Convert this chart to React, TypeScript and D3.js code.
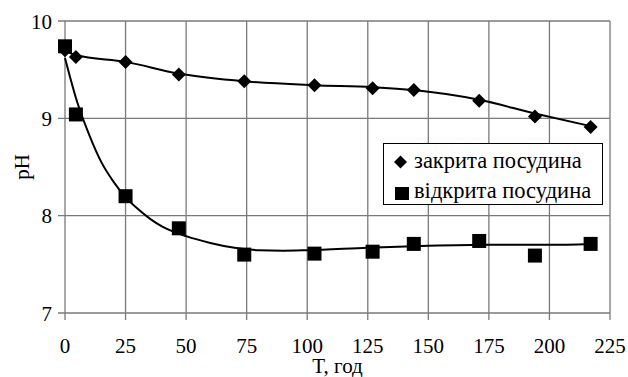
import React from "react";
import * as d3 from "d3";

// закрита посудина (diamonds)
const closedT = [0, 4.5, 25, 47, 74, 103, 127, 144, 171, 194, 217];
const closedPH = [9.7, 9.63, 9.58, 9.45, 9.38, 9.34, 9.31, 9.29, 9.18, 9.02, 8.91];
// відкрита посудина (squares)
const openT = [0, 4.5, 25, 47, 74, 103, 127, 144, 171, 194, 217];
const openPH = [9.74, 9.04, 8.2, 7.87, 7.6, 7.61, 7.63, 7.71, 7.74, 7.59, 7.71];

// trend lines
const closedTrendT = [0, 4.5, 25, 47, 74, 103, 127, 144, 171, 194, 217];
const closedTrendPH = [9.69, 9.65, 9.58, 9.46, 9.38, 9.34, 9.32, 9.29, 9.19, 9.05, 8.92];
const openTrendT = [0, 5, 10, 15, 20, 25, 30, 35, 40, 50, 60, 70, 80, 90, 100, 125, 150, 175, 200, 217];
const openTrendPH = [9.62, 9.17, 8.83, 8.55, 8.35, 8.19, 8.07, 7.97, 7.89, 7.79, 7.72, 7.67, 7.645, 7.64, 7.645, 7.67, 7.69, 7.7, 7.7, 7.71];

const xTicks = [0, 25, 50, 75, 100, 125, 150, 175, 200, 225];
const yTicks = [7, 8, 9, 10];
const legendLabels = ["закрита посудина", "відкрита посудина"];

const left = 65, right = 610, top = 21, bottom = 313;
const x = d3.scaleLinear().domain([0, 225]).range([left, right]);
const y = d3.scaleLinear().domain([7, 10]).range([bottom, top]);
const grid = "#7a7a7a";
const serif = (size: number) => ({ fontFamily: "Liberation Serif", fontSize: size + "px" });

const line = d3.line<[number, number]>()
  .x((d) => x(d[0])).y((d) => y(d[1]))
  .curve(d3.curveMonotoneX);

const diamond = (cx: number, cy: number, r: number) =>
  `M${cx},${cy - r}L${cx + r},${cy}L${cx},${cy + r}L${cx - r},${cy}Z`;

export default function App() {
  const s = 14;
  return (
    <svg width={628} height={377} style={{ position: "absolute", left: 0, top: 0, background: "white" }}>
      {/* grid */}
      {xTicks.map((t) => (
        <line key={"gx" + t} x1={x(t)} x2={x(t)} y1={top} y2={bottom + 7} stroke={grid} strokeWidth={1.3} />
      ))}
      {yTicks.map((t) => (
        <line key={"gy" + t} x1={left - 7} x2={right} y1={y(t)} y2={y(t)} stroke={grid} strokeWidth={1.3} />
      ))}

      {/* tick labels */}
      {xTicks.map((t) => (
        <text key={"tx" + t} x={x(t)} y={353} textAnchor="middle" style={serif(21)}>{t}</text>
      ))}
      {yTicks.map((t) => (
        <text key={"ty" + t} x={52} y={y(t) + 7.5} textAnchor="end" style={serif(21)}>{t}</text>
      ))}
      <text x={(left + right) / 2} y={373} textAnchor="middle" style={serif(21)}>T, год</text>
      <text transform={`translate(29,${(top + bottom) / 2}) rotate(-90)`} textAnchor="middle" style={serif(21)}>pH</text>

      {/* trend lines */}
      <path d={line(closedTrendT.map((t, i) => [t, closedTrendPH[i]] as [number, number])) || ""}
        fill="none" stroke="black" strokeWidth={2} />
      <path d={line(openTrendT.map((t, i) => [t, openTrendPH[i]] as [number, number])) || ""}
        fill="none" stroke="black" strokeWidth={2} />

      {/* markers */}
      {closedT.map((t, i) => (
        <path key={"d" + i} d={diamond(x(t), y(closedPH[i]), 7)} fill="black" />
      ))}
      {openT.map((t, i) => (
        <rect key={"s" + i} x={x(t) - s / 2} y={y(openPH[i]) - s / 2} width={s} height={s} fill="black" />
      ))}

      {/* legend */}
      <rect x={383.5} y={143.5} width={219} height={61} fill="white" stroke="black" strokeWidth={1} />
      <path d={diamond(400.5, 162, 6.5)} fill="black" />
      <rect x={395} y={187} width={14} height={13} fill="black" />
      {legendLabels.map((l, i) => (
        <text key={l} x={414} y={168 + i * 30} style={serif(22.5)}>{l}</text>
      ))}
    </svg>
  );
}
